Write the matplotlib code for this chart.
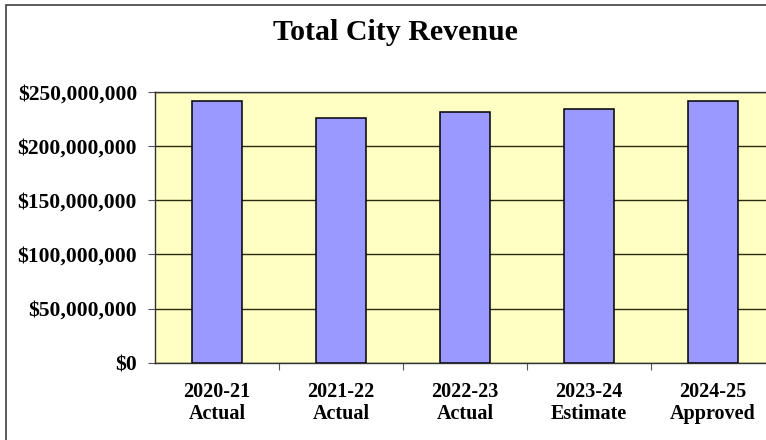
import matplotlib
matplotlib.use('Agg')
import matplotlib.pyplot as plt
from matplotlib.patches import Rectangle
from matplotlib.ticker import FuncFormatter, MultipleLocator

# data
years = ['2020-21', '2021-22', '2022-23', '2023-24', '2024-25']
stages = ['Actual', 'Actual', 'Actual', 'Estimate', 'Approved']
revenue = [241.7e6, 225.5e6, 231.5e6, 233.8e6, 241.7e6]

plt.rcParams['font.family'] = ['Liberation Serif', 'DejaVu Serif']
plt.rcParams['font.weight'] = 'bold'

fig = plt.figure(figsize=(7.66, 4.40), dpi=100)
fig.patch.set_facecolor('white')

# chart frame (right and bottom edges are cropped off in the reference)
fig.patches.append(Rectangle((6 / 766, -0.2), 2.0, 1.2 - 5 / 440,
                             transform=fig.transFigure, fill=False,
                             edgecolor='#404040', linewidth=1.2))

fig.text(395 / 766, 1 - 32 / 440, 'Total City Revenue', ha='center', va='center',
         fontsize=21.5, fontweight='bold')

# plot area runs off the right edge, as in the reference
ax = fig.add_axes([155 / 766, 1 - 362.7 / 440, 620 / 766, 271 / 440])
ax.set_facecolor('#FFFFC4')

x = list(range(len(years)))
ax.bar(x, revenue, width=0.4, color='#9999FF', edgecolor='black', linewidth=1.1, zorder=3)

ax.set_xlim(-0.5, len(years) - 0.5)
ax.set_ylim(0, 250e6)
ax.yaxis.set_major_locator(MultipleLocator(50e6))
ax.yaxis.set_major_formatter(FuncFormatter(lambda v, p: '${:,.0f}'.format(v)))
ax.grid(axis='y', color='#2a2a10', linewidth=1.0, zorder=1)

ax.set_xticks(x)
ax.set_xticklabels([y + '\n' + s for y, s in zip(years, stages)], linespacing=1.15)
ax.set_xticks([i + 0.5 for i in x], minor=True)
ax.tick_params(axis='x', which='major', length=0, pad=14, labelsize=14.5)
ax.tick_params(axis='x', which='minor', length=5, width=0.8, color='#555555')
ax.tick_params(axis='y', length=5, width=0.8, pad=8, labelsize=15.5, color='#555555')

for side in ['top', 'left', 'bottom']:
    ax.spines[side].set_color('#333333')
    ax.spines[side].set_linewidth(1.0)
ax.spines['right'].set_visible(False)

plt.savefig('out.png', dpi=100)
plt.close()
